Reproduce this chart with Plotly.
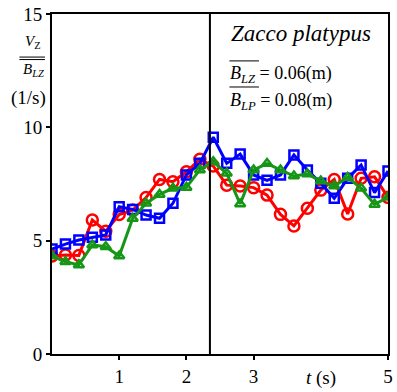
import plotly.graph_objects as go

t = [round(0.2 * i, 1) for i in range(26)]
red = [4.32, 4.37, 4.35, 5.91, 5.42, 6.15, 6.35, 6.9, 7.70, 7.60, 8.04, 8.59, 8.29, 7.45, 7.41, 7.34,
       7.01, 6.16, 5.65, 6.43, 7.23, 7.70, 6.18, 7.75, 7.82, 6.91]
blue = [4.63, 4.85, 5.03, 5.15, 5.25, 6.50, 6.38, 6.13, 5.99, 6.65, 7.90, 8.41, 9.56, 8.41, 8.82, 7.90,
        7.66, 7.90, 8.78, 8.12, 7.53, 6.87, 7.75, 8.34, 7.12, 8.07]
green = [4.32, 4.07, 3.93, 4.81, 4.73, 4.32, 5.98, 6.65, 7.04, 7.31, 7.35, 8.12, 8.48, 7.97, 6.62, 8.12,
         8.40, 8.12, 7.85, 7.94, 7.63, 7.41, 7.79, 7.31, 6.60, 6.91]
xtickvals = [1, 2, 3, 5]
ytickvals = [0, 5, 10, 15]
vline_t = 2.35

SERIF = "Times New Roman"

fig = go.Figure()
for y, col, sym, size in [(red, "#ff0000", "circle-open", 11),
                          (blue, "#0000ff", "square-open", 9),
                          (green, "#169616", "triangle-up-open", 9)]:
    fig.add_trace(go.Scatter(x=t, y=y, mode="lines+markers",
                             line=dict(color=col, width=3),
                             marker=dict(symbol=sym, size=size, color=col,
                                         line=dict(color=col, width=2.5)),
                             showlegend=False))

fig.add_shape(type="line", x0=vline_t, x1=vline_t, y0=0, y1=15, xref="x", yref="y",
              line=dict(color="black", width=2))

def ann(x, y, text, size, xanchor="center"):
    fig.add_annotation(x=x, y=y, xref="paper", yref="y", showarrow=False, xanchor=xanchor,
                       yanchor="middle", text=text,
                       font=dict(family=SERIF, size=size, color="black"))

def hline(x0, x1, y):
    fig.add_shape(type="line", x0=x0, x1=x1, y0=y, y1=y, xref="paper", yref="y",
                  line=dict(color="black", width=1))

# y-axis label
ann(-0.056, 13.76, "<i>V</i><sub>Z</sub>", 15)
hline(-0.097, -0.021, 13.10)
hline(-0.097, -0.021, 12.99)
ann(-0.056, 12.53, "<i>B</i><sub><i>LZ</i></sub>", 15)
ann(-0.07, 11.29, "(1/s)", 19)

# x-axis label
fig.add_annotation(x=4, y=-0.07, xref="x", yref="paper", showarrow=False, yanchor="middle",
                   text="<i>t</i> (s)", font=dict(family=SERIF, size=19, color="black"))

# text box
ann(0.956, 14.16, "<i>Zacco platypus</i>", 23, xanchor="right")
ann(0.525, 12.31, "<i>B</i><sub><i>LZ</i></sub> = 0.06(m)", 18, xanchor="left")
ann(0.525, 11.16, "<i>B</i><sub><i>LP</i></sub> = 0.08(m)", 18, xanchor="left")
hline(0.528, 0.616, 12.93)
hline(0.528, 0.616, 11.78)

fig.update_xaxes(range=[0, 5], tickvals=xtickvals, ticktext=[str(v) for v in xtickvals],
                 showline=True, linecolor="black", linewidth=2, mirror=True,
                 ticks="outside", ticklen=4, tickwidth=1.5, tickcolor="black",
                 showgrid=False, zeroline=False,
                 tickfont=dict(family=SERIF, size=19, color="black"))
fig.update_yaxes(range=[0, 15], tickvals=ytickvals,
                 showline=True, linecolor="black", linewidth=2, mirror=True,
                 ticks="outside", ticklen=4, tickwidth=1.5, tickcolor="black",
                 showgrid=False, zeroline=False,
                 tickfont=dict(family=SERIF, size=19, color="black"))
fig.update_layout(width=397, height=392, margin=dict(l=52, r=4, t=14, b=38),
                  plot_bgcolor="white", paper_bgcolor="white",
                  font=dict(family=SERIF))
fig.write_html("out.html")
